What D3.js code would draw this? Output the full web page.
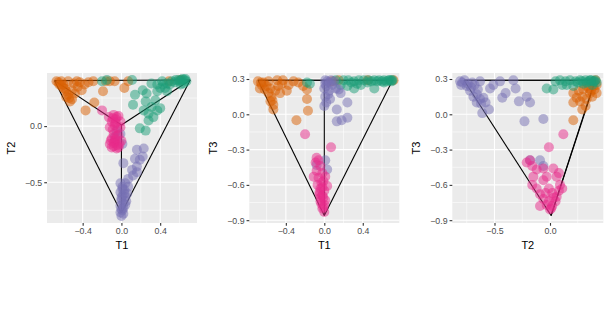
<!DOCTYPE html>
<html>
<head>
<meta charset="utf-8">
<script src="https://cdn.jsdelivr.net/npm/d3@7"></script>
<style>
  body { margin: 0; background: #fff; }
  svg { display: block; font-family: "Liberation Sans", Arial, sans-serif; }
</style>
</head>
<body>
<svg id="chart" width="608" height="325"></svg>
<script>
// groups and Dark2 colours
const groups = ["a", "b", "c", "d"];
const groupColors = ["#D95F02", "#1B9E77", "#7570B3", "#E7298A"];

// tetrahedron corners in (T1, T2, T3) and its edges
const vertices = [[-0.69, 0.405, 0.29], [0.71, 0.41, 0.29], [0, -0.775, 0.29], [0, 0.01, -0.86]];
const edges = [[0, 1], [0, 2], [0, 3], [1, 2], [1, 3], [2, 3]];

// tick labels
const ticksT1 = [-0.4, 0, 0.4];
const ticksT2x = [-0.5, 0];
const ticksT2y = [-0.5, 0];
const ticksT3 = [-0.9, -0.6, -0.3, 0, 0.3];

// points: [x, y, group]
const pointsT1T2 = [
  ...[[-0.67,0.40],[-0.62,0.40],[-0.64,0.37],[-0.60,0.34],[-0.57,0.31],[-0.55,0.28],[-0.51,0.24],[-0.53,0.22],[-0.57,0.26],[-0.48,0.29],[-0.45,0.35],[-0.49,0.38],[-0.43,0.39],[-0.38,0.37],[-0.34,0.39],[-0.29,0.40],[-0.46,0.40],[-0.55,0.40],[-0.19,0.31],[-0.28,0.21],[-0.37,0.14],[-0.07,0.40],[0.03,0.34],[0.49,0.40],[0.61,0.41],[-0.41,0.32],[-0.51,0.32],[-0.65,0.39],[-0.60,0.37],[-0.58,0.33],[-0.12,0.40],[-0.16,0.40],[0.07,0.40],[-0.62,0.36],[-0.54,0.25]].map(p => [...p, "a"]),
  ...[[0.66,0.42],[0.62,0.41],[0.59,0.41],[0.56,0.41],[0.52,0.40],[0.47,0.38],[0.43,0.37],[0.40,0.34],[0.37,0.31],[0.37,0.37],[0.42,0.40],[0.64,0.38],[0.61,0.37],[0.31,0.38],[0.14,0.28],[0.12,0.19],[0.26,0.29],[0.25,0.22],[0.23,0.14],[0.28,0.11],[0.33,0.08],[0.28,0.05],[0.37,0.14],[0.40,0.16],[0.31,0.17],[0.19,-0.02],[0.25,-0.04],[-0.20,0.40],[-0.15,0.41],[0.35,0.23],[0.47,0.31],[0.67,0.40],[0.65,0.41],[0.63,0.42],[0.55,0.39],[0.50,0.37],[0.45,0.34],[0.60,0.40],[0.11,0.41],[0.22,0.32]].map(p => [...p, "b"]),
  ...[[-0.05,-0.04],[-0.01,-0.07],[-0.07,-0.10],[0.01,-0.16],[0.16,-0.21],[0.23,-0.20],[0.14,-0.29],[0.19,-0.30],[0.22,-0.27],[0.11,-0.39],[0.16,-0.41],[0.12,-0.44],[0.07,-0.47],[0.04,-0.51],[0.01,-0.54],[0.03,-0.57],[-0.01,-0.59],[0.01,-0.62],[0.04,-0.63],[0.00,-0.66],[0.02,-0.69],[-0.01,-0.71],[0.01,-0.75],[0.02,-0.78],[0.00,-0.80],[0.06,-0.60],[0.07,-0.54],[-0.01,-0.51],[0.16,-0.36],[0.02,-0.33],[0.03,-0.60],[0.00,-0.64],[0.02,-0.73],[-0.01,-0.77],[0.01,-0.56],[0.05,-0.67],[0.04,-0.70],[0.00,-0.74]].map(p => [...p, "c"]),
  ...[[-0.20,0.14],[-0.08,0.10],[-0.03,0.09],[-0.06,0.06],[-0.10,0.04],[-0.01,0.04],[-0.07,0.01],[-0.12,-0.01],[-0.04,-0.02],[-0.08,-0.07],[-0.03,-0.08],[-0.10,-0.11],[-0.07,-0.14],[-0.02,-0.16],[-0.08,-0.18],[-0.05,-0.20],[0.00,-0.13],[-0.12,-0.16],[-0.01,-0.01],[-0.13,0.08],[-0.05,0.08],[-0.09,-0.03],[-0.06,-0.12],[-0.04,-0.17],[-0.11,-0.13],[-0.06,0.03],[-0.09,0.07],[-0.05,-0.09],[-0.08,-0.15],[-0.03,-0.19],[-0.10,-0.19]].map(p => [...p, "d"])
];

const pointsT1T3 = [
  ...[[-0.69,0.28],[-0.63,0.27],[-0.67,0.22],[-0.62,0.21],[-0.58,0.18],[-0.55,0.15],[-0.56,0.11],[-0.53,0.08],[-0.53,0.04],[-0.51,0.20],[-0.48,0.24],[-0.46,0.18],[-0.43,0.29],[-0.37,0.25],[-0.32,0.28],[-0.27,0.27],[-0.22,0.24],[-0.18,0.13],[-0.17,0.03],[-0.29,-0.05],[-0.49,0.29],[-0.58,0.28],[-0.39,0.20],[-0.18,0.21],[0.15,0.29],[0.72,0.29],[-0.65,0.25],[-0.60,0.24],[-0.56,0.22],[-0.54,0.12],[-0.66,0.27],[-0.44,0.26],[0.45,0.29],[0.08,0.28]].map(p => [...p, "a"]),
  ...[[-0.18,0.27],[-0.15,0.26],[0.12,0.29],[0.20,0.29],[0.25,0.29],[0.31,0.28],[0.36,0.29],[0.41,0.29],[0.46,0.29],[0.52,0.29],[0.57,0.29],[0.62,0.29],[0.67,0.29],[0.71,0.29],[0.31,0.22],[0.24,0.24],[0.38,0.25],[0.52,0.22],[0.62,0.27],[0.70,0.28],[0.45,0.27],[0.17,0.25],[0.28,0.27],[0.55,0.28],[0.65,0.28],[0.68,0.29],[0.60,0.28],[0.49,0.28],[0.34,0.26],[0.70,0.29]].map(p => [...p, "b"]),
  ...[[0.01,0.29],[0.05,0.27],[0.02,0.24],[0.08,0.25],[0.05,0.20],[0.01,0.15],[0.06,0.13],[0.02,0.10],[0.12,0.22],[0.17,0.18],[0.13,0.04],[0.24,0.10],[0.13,-0.06],[0.18,-0.05],[0.24,-0.03],[0.10,0.28],[-0.08,-0.43],[0.01,-0.39],[0.03,-0.47],[0.15,0.21],[0.00,0.07],[0.03,0.28],[0.07,0.29],[0.00,0.22],[0.04,0.17],[0.01,0.26]].map(p => [...p, "c"]),
  ...[[-0.20,-0.17],[0.07,-0.28],[-0.08,-0.37],[-0.09,-0.41],[-0.04,-0.44],[-0.08,-0.48],[-0.02,-0.50],[-0.06,-0.54],[-0.01,-0.57],[-0.07,-0.60],[-0.04,-0.63],[0.00,-0.65],[-0.05,-0.68],[-0.01,-0.71],[-0.04,-0.74],[0.00,-0.77],[-0.02,-0.80],[0.00,-0.83],[0.01,-0.53],[-0.11,-0.53],[0.03,-0.61],[-0.06,-0.39],[-0.03,-0.58],[-0.05,-0.66],[-0.02,-0.69],[-0.03,-0.76],[-0.01,-0.79],[-0.04,-0.71],[0.01,-0.73],[-0.02,-0.62]].map(p => [...p, "d"])
];

const pointsT2T3 = [
  ...[[0.21,0.18],[0.26,0.20],[0.29,0.15],[0.21,0.10],[0.29,0.04],[0.32,0.07],[0.33,0.13],[0.36,0.18],[0.40,0.21],[0.38,0.15],[0.33,0.24],[0.21,-0.05],[0.42,0.25],[0.41,0.29],[0.27,0.11],[0.30,0.21],[0.42,0.18],[0.24,0.14],[0.35,0.22],[0.39,0.24],[0.37,0.20]].map(p => [...p, "a"]),
  ...[[-0.03,0.22],[0.03,0.21],[0.05,0.28],[0.09,0.29],[0.14,0.28],[0.18,0.29],[0.23,0.28],[0.27,0.29],[0.32,0.29],[0.36,0.29],[0.41,0.29],[0.42,0.27],[0.38,0.25],[0.30,0.26],[0.15,0.25],[0.21,0.24],[0.11,0.25],[0.33,0.27],[0.39,0.28],[0.35,0.28],[0.40,0.28],[0.25,0.27],[0.37,0.29],[0.29,0.28]].map(p => [...p, "b"]),
  ...[[-0.81,0.28],[-0.77,0.29],[-0.80,0.25],[-0.75,0.24],[-0.72,0.20],[-0.68,0.25],[-0.65,0.21],[-0.69,0.15],[-0.63,0.13],[-0.60,0.14],[-0.58,0.10],[-0.55,0.04],[-0.61,0.01],[-0.66,0.10],[-0.51,0.25],[-0.45,0.28],[-0.40,0.18],[-0.43,0.14],[-0.33,0.29],[-0.31,0.22],[-0.28,0.11],[-0.21,0.15],[-0.18,0.10],[-0.23,-0.06],[-0.06,-0.04],[-0.09,-0.39],[-0.06,-0.44],[-0.18,-0.39],[-0.70,0.27],[-0.63,0.28],[-0.54,0.22],[-0.79,0.27],[-0.74,0.26],[-0.71,0.23],[-0.66,0.17],[-0.62,0.09]].map(p => [...p, "c"]),
  ...[[0.12,-0.17],[-0.01,-0.28],[-0.18,-0.39],[-0.21,-0.41],[-0.16,-0.44],[-0.15,-0.53],[-0.16,-0.60],[-0.12,-0.63],[-0.09,-0.68],[-0.06,-0.72],[-0.03,-0.77],[0.00,-0.81],[0.02,-0.78],[0.05,-0.74],[0.06,-0.70],[0.08,-0.65],[0.09,-0.60],[0.06,-0.53],[0.03,-0.46],[0.08,-0.50],[-0.03,-0.53],[-0.06,-0.56],[-0.01,-0.63],[0.02,-0.67],[-0.04,-0.67],[-0.09,-0.78],[0.03,-0.71],[0.11,-0.63],[-0.12,-0.47],[-0.06,-0.46],[-0.01,-0.74],[0.01,-0.80]].map(p => [...p, "d"])
];

const panels = [
  { xi: 0, yi: 1, xTitle: "T1", yTitle: "T2", points: pointsT1T2, xTicks: ticksT1, yTicks: ticksT2y,
    xDomain: [-0.768, 0.78], yDomain: [-0.863, 0.473], left: 47, width: 150 },
  { xi: 0, yi: 2, xTitle: "T1", yTitle: "T3", points: pointsT1T3, xTicks: ticksT1, yTicks: ticksT3,
    xDomain: [-0.78, 0.78], yDomain: [-0.924, 0.351], left: 249.3, width: 150 },
  { xi: 1, yi: 2, xTitle: "T2", yTitle: "T3", points: pointsT2T3, xTicks: ticksT2x, yTicks: ticksT3,
    xDomain: [-0.88, 0.48], yDomain: [-0.924, 0.351], left: 452.3, width: 151 }
];

const plotTop = 73, plotHeight = 150;
const color = d3.scaleOrdinal(groups, groupColors);
const fmt = d3.format(".1f");
const svg = d3.select("#chart");

// minor breaks half way between the majors, kept inside the domain
function minorBreaks(ticks, domain) {
  const step = ticks.length > 1 ? ticks[1] - ticks[0] : 1;
  const out = [];
  for (let v = ticks[0] - step / 2; v <= domain[1]; v += step) {
    if (v >= domain[0]) out.push(v);
  }
  return out;
}

function renderPanel(cfg) {
  const x = d3.scaleLinear().domain(cfg.xDomain).range([cfg.left, cfg.left + cfg.width]);
  const y = d3.scaleLinear().domain(cfg.yDomain).range([plotTop + plotHeight, plotTop]);
  const g = svg.append("g");

  g.append("rect")
    .attr("x", cfg.left).attr("y", plotTop)
    .attr("width", cfg.width).attr("height", plotHeight)
    .attr("fill", "#EBEBEB");

  const grid = g.append("g").attr("stroke", "#fff").attr("fill", "none");
  minorBreaks(cfg.xTicks, cfg.xDomain).forEach(v => {
    grid.append("line").attr("x1", x(v)).attr("x2", x(v)).attr("y1", plotTop).attr("y2", plotTop + plotHeight).attr("stroke-width", 0.55);
  });
  minorBreaks(cfg.yTicks.slice().sort(d3.ascending), cfg.yDomain).forEach(v => {
    grid.append("line").attr("y1", y(v)).attr("y2", y(v)).attr("x1", cfg.left).attr("x2", cfg.left + cfg.width).attr("stroke-width", 0.55);
  });
  cfg.xTicks.forEach(v => {
    grid.append("line").attr("x1", x(v)).attr("x2", x(v)).attr("y1", plotTop).attr("y2", plotTop + plotHeight).attr("stroke-width", 1.1);
  });
  cfg.yTicks.forEach(v => {
    grid.append("line").attr("y1", y(v)).attr("y2", y(v)).attr("x1", cfg.left).attr("x2", cfg.left + cfg.width).attr("stroke-width", 1.1);
  });

  // tetrahedron edges projected on this pair of axes
  g.append("g").selectAll("line")
    .data(edges)
    .join("line")
    .attr("x1", e => x(vertices[e[0]][cfg.xi]))
    .attr("y1", e => y(vertices[e[0]][cfg.yi]))
    .attr("x2", e => x(vertices[e[1]][cfg.xi]))
    .attr("y2", e => y(vertices[e[1]][cfg.yi]))
    .attr("stroke", "#000")
    .attr("stroke-width", 1.1);

  g.append("g").selectAll("circle")
    .data(cfg.points)
    .join("circle")
    .attr("cx", d => x(d[0]))
    .attr("cy", d => y(d[1]))
    .attr("r", 5)
    .attr("fill", d => color(d[2]))
    .attr("fill-opacity", 0.5);

  const xAxis = g.append("g")
    .attr("transform", `translate(0,${plotTop + plotHeight})`)
    .call(d3.axisBottom(x).tickValues(cfg.xTicks).tickFormat(fmt).tickSize(2.75).tickPadding(2));
  const yAxis = g.append("g")
    .attr("transform", `translate(${cfg.left},0)`)
    .call(d3.axisLeft(y).tickValues(cfg.yTicks).tickFormat(fmt).tickSize(2.75).tickPadding(2));
  [xAxis, yAxis].forEach(ax => {
    ax.select(".domain").remove();
    ax.selectAll(".tick line").attr("stroke", "#333").attr("stroke-width", 1.1);
    ax.selectAll(".tick text").attr("fill", "#4D4D4D").attr("font-size", 8.8)
      .attr("font-family", "Liberation Sans, Arial, sans-serif");
  });

  g.append("text")
    .attr("x", cfg.left + cfg.width / 2)
    .attr("y", plotTop + plotHeight + 26)
    .attr("text-anchor", "middle")
    .attr("font-size", 11)
    .text(cfg.xTitle);
  g.append("text")
    .attr("transform", `translate(${cfg.left - 32},${plotTop + plotHeight / 2}) rotate(-90)`)
    .attr("text-anchor", "middle")
    .attr("font-size", 11)
    .text(cfg.yTitle);
}

panels.forEach(renderPanel);
</script>
</body>
</html>
